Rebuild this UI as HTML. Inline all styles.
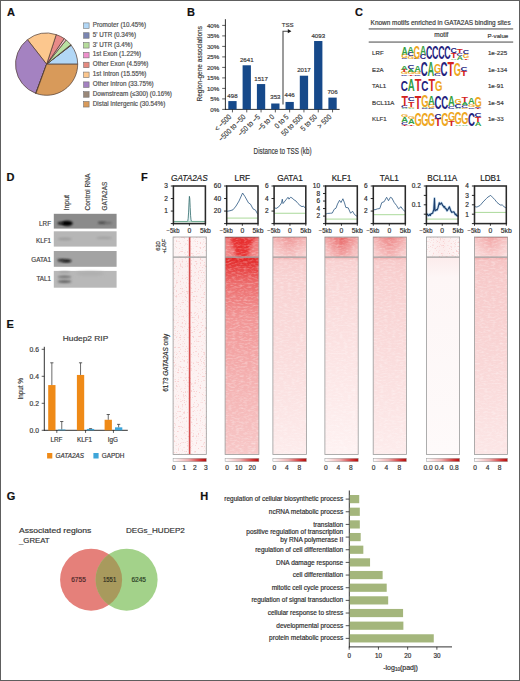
<!DOCTYPE html>
<html><head><meta charset="utf-8"><style>
html,body{margin:0;padding:0;background:#fff;}
svg{display:block;}
text{font-family:"Liberation Sans",sans-serif;}
</style></head><body>
<svg width="520" height="681" viewBox="0 0 520 681">
<rect width="520" height="681" fill="#fff"/>
<rect x="0.5" y="0.5" width="519" height="680" fill="none" stroke="#5e5e5e" stroke-width="1"/>
<text stroke="#111" stroke-width="0.18" x="7.0" y="16" font-size="11" text-anchor="start" fill="#111" font-weight="bold" font-style="normal" >A</text>
<text stroke="#111" stroke-width="0.18" x="187.0" y="16" font-size="11" text-anchor="start" fill="#111" font-weight="bold" font-style="normal" >B</text>
<text stroke="#111" stroke-width="0.18" x="354.9" y="16.2" font-size="11" text-anchor="start" fill="#111" font-weight="bold" font-style="normal" >C</text>
<text stroke="#111" stroke-width="0.18" x="6.4" y="180.7" font-size="11" text-anchor="start" fill="#111" font-weight="bold" font-style="normal" >D</text>
<text stroke="#111" stroke-width="0.18" x="6.4" y="327.6" font-size="11" text-anchor="start" fill="#111" font-weight="bold" font-style="normal" >E</text>
<text stroke="#111" stroke-width="0.18" x="141.1" y="180.7" font-size="11" text-anchor="start" fill="#111" font-weight="bold" font-style="normal" >F</text>
<text stroke="#111" stroke-width="0.18" x="6.7" y="499.5" font-size="11" text-anchor="start" fill="#111" font-weight="bold" font-style="normal" >G</text>
<text stroke="#111" stroke-width="0.18" x="200.2" y="499.6" font-size="11" text-anchor="start" fill="#111" font-weight="bold" font-style="normal" >H</text>
<path d="M46.6,64.2 L77.70,64.20 A31.1,31.1 0 0 0 71.23,45.22 Z" fill="#b2d7f6" stroke="#4e3a30" stroke-width="0.7" stroke-linejoin="round"/>
<path d="M46.6,64.2 L71.23,45.22 A31.1,31.1 0 0 0 70.82,44.69 Z" fill="#1f3b2c" stroke="#4e3a30" stroke-width="0.7" stroke-linejoin="round"/>
<path d="M46.6,64.2 L70.82,44.69 A31.1,31.1 0 0 0 66.14,40.00 Z" fill="#b9e0a2" stroke="#4e3a30" stroke-width="0.7" stroke-linejoin="round"/>
<path d="M46.6,64.2 L66.14,40.00 A31.1,31.1 0 0 0 64.23,38.58 Z" fill="#f2c4cc" stroke="#4e3a30" stroke-width="0.7" stroke-linejoin="round"/>
<path d="M46.6,64.2 L64.23,38.58 A31.1,31.1 0 0 0 56.21,34.62 Z" fill="#e88a88" stroke="#4e3a30" stroke-width="0.7" stroke-linejoin="round"/>
<path d="M46.6,64.2 L56.21,34.62 A31.1,31.1 0 0 0 27.46,39.69 Z" fill="#fcc78e" stroke="#4e3a30" stroke-width="0.7" stroke-linejoin="round"/>
<path d="M46.6,64.2 L27.46,39.69 A31.1,31.1 0 0 0 35.70,93.33 Z" fill="#a482c1" stroke="#4e3a30" stroke-width="0.7" stroke-linejoin="round"/>
<path d="M46.6,64.2 L35.70,93.33 A31.1,31.1 0 0 0 35.99,93.43 Z" fill="#6a5040" stroke="#4e3a30" stroke-width="0.7" stroke-linejoin="round"/>
<path d="M46.6,64.2 L35.99,93.43 A31.1,31.1 0 0 0 77.70,64.20 Z" fill="#d89a5a" stroke="#4e3a30" stroke-width="0.7" stroke-linejoin="round"/>
<rect x="83.6" y="22.90" width="5.5" height="5.5" fill="#b2d7f6" stroke="#6a6a6a" stroke-width="0.55"/>
<text stroke="#505050" stroke-width="0.18" x="92.8" y="27.0" font-size="6.3" text-anchor="start" fill="#505050" font-weight="normal" font-style="normal" >Promoter (10.45%)</text>
<rect x="83.6" y="32.73" width="5.5" height="5.5" fill="#7b86b2" stroke="#6a6a6a" stroke-width="0.55"/>
<text stroke="#505050" stroke-width="0.18" x="92.8" y="36.83" font-size="6.3" text-anchor="start" fill="#505050" font-weight="normal" font-style="normal" >5' UTR (0.34%)</text>
<rect x="83.6" y="42.56" width="5.5" height="5.5" fill="#b6dc9c" stroke="#6a6a6a" stroke-width="0.55"/>
<text stroke="#505050" stroke-width="0.18" x="92.8" y="46.66" font-size="6.3" text-anchor="start" fill="#505050" font-weight="normal" font-style="normal" >3' UTR (3.4%)</text>
<rect x="83.6" y="52.39" width="5.5" height="5.5" fill="#ee90cc" stroke="#6a6a6a" stroke-width="0.55"/>
<text stroke="#505050" stroke-width="0.18" x="92.8" y="56.49" font-size="6.3" text-anchor="start" fill="#505050" font-weight="normal" font-style="normal" >1st Exon (1.22%)</text>
<rect x="83.6" y="62.22" width="5.5" height="5.5" fill="#e58a80" stroke="#6a6a6a" stroke-width="0.55"/>
<text stroke="#505050" stroke-width="0.18" x="92.8" y="66.32" font-size="6.3" text-anchor="start" fill="#505050" font-weight="normal" font-style="normal" >Other Exon (4.59%)</text>
<rect x="83.6" y="72.05" width="5.5" height="5.5" fill="#fcc78e" stroke="#6a6a6a" stroke-width="0.55"/>
<text stroke="#505050" stroke-width="0.18" x="92.8" y="76.15" font-size="6.3" text-anchor="start" fill="#505050" font-weight="normal" font-style="normal" >1st Intron (15.55%)</text>
<rect x="83.6" y="81.88" width="5.5" height="5.5" fill="#a482c1" stroke="#6a6a6a" stroke-width="0.55"/>
<text stroke="#505050" stroke-width="0.18" x="92.8" y="85.98" font-size="6.3" text-anchor="start" fill="#505050" font-weight="normal" font-style="normal" >Other Intron (33.75%)</text>
<rect x="83.6" y="91.71" width="5.5" height="5.5" fill="#9a8878" stroke="#6a6a6a" stroke-width="0.55"/>
<text stroke="#505050" stroke-width="0.18" x="92.8" y="95.81" font-size="6.3" text-anchor="start" fill="#505050" font-weight="normal" font-style="normal" >Downstream (≤300) (0.16%)</text>
<rect x="83.6" y="101.54" width="5.5" height="5.5" fill="#d89a5a" stroke="#6a6a6a" stroke-width="0.55"/>
<text stroke="#505050" stroke-width="0.18" x="92.8" y="105.64" font-size="6.3" text-anchor="start" fill="#505050" font-weight="normal" font-style="normal" >Distal Intergenic (30.54%)</text>
<line x1="225.4" y1="19.2" x2="225.4" y2="109.80000000000001" stroke="#1a1a1a" stroke-width="0.9"/>
<line x1="225.0" y1="109.4" x2="339.6" y2="109.4" stroke="#1a1a1a" stroke-width="0.9"/>
<line x1="222.20000000000002" y1="109.40" x2="225.4" y2="109.40" stroke="#1a1a1a" stroke-width="0.7"/>
<text stroke="#3a3a3a" stroke-width="0.18" x="219.3" y="111.5" font-size="6.2" text-anchor="end" fill="#3a3a3a" font-weight="normal" font-style="normal" >0%</text>
<line x1="222.20000000000002" y1="98.90" x2="225.4" y2="98.90" stroke="#1a1a1a" stroke-width="0.7"/>
<text stroke="#3a3a3a" stroke-width="0.18" x="219.3" y="101.0" font-size="6.2" text-anchor="end" fill="#3a3a3a" font-weight="normal" font-style="normal" >5%</text>
<line x1="222.20000000000002" y1="88.40" x2="225.4" y2="88.40" stroke="#1a1a1a" stroke-width="0.7"/>
<text stroke="#3a3a3a" stroke-width="0.18" x="219.3" y="90.5" font-size="6.2" text-anchor="end" fill="#3a3a3a" font-weight="normal" font-style="normal" >10%</text>
<line x1="222.20000000000002" y1="77.90" x2="225.4" y2="77.90" stroke="#1a1a1a" stroke-width="0.7"/>
<text stroke="#3a3a3a" stroke-width="0.18" x="219.3" y="80.0" font-size="6.2" text-anchor="end" fill="#3a3a3a" font-weight="normal" font-style="normal" >15%</text>
<line x1="222.20000000000002" y1="67.40" x2="225.4" y2="67.40" stroke="#1a1a1a" stroke-width="0.7"/>
<text stroke="#3a3a3a" stroke-width="0.18" x="219.3" y="69.5" font-size="6.2" text-anchor="end" fill="#3a3a3a" font-weight="normal" font-style="normal" >20%</text>
<line x1="222.20000000000002" y1="56.90" x2="225.4" y2="56.90" stroke="#1a1a1a" stroke-width="0.7"/>
<text stroke="#3a3a3a" stroke-width="0.18" x="219.3" y="59.00000000000001" font-size="6.2" text-anchor="end" fill="#3a3a3a" font-weight="normal" font-style="normal" >25%</text>
<line x1="222.20000000000002" y1="46.40" x2="225.4" y2="46.40" stroke="#1a1a1a" stroke-width="0.7"/>
<text stroke="#3a3a3a" stroke-width="0.18" x="219.3" y="48.50000000000001" font-size="6.2" text-anchor="end" fill="#3a3a3a" font-weight="normal" font-style="normal" >30%</text>
<line x1="222.20000000000002" y1="35.90" x2="225.4" y2="35.90" stroke="#1a1a1a" stroke-width="0.7"/>
<text stroke="#3a3a3a" stroke-width="0.18" x="219.3" y="38.00000000000001" font-size="6.2" text-anchor="end" fill="#3a3a3a" font-weight="normal" font-style="normal" >35%</text>
<line x1="222.20000000000002" y1="25.40" x2="225.4" y2="25.40" stroke="#1a1a1a" stroke-width="0.7"/>
<text stroke="#3a3a3a" stroke-width="0.18" x="219.3" y="27.500000000000007" font-size="6.2" text-anchor="end" fill="#3a3a3a" font-weight="normal" font-style="normal" >40%</text>
<rect x="228.30" y="101.08" width="8.3" height="8.32" fill="#16498a"/>
<text stroke="#3a3a3a" stroke-width="0.18" x="232.45000000000002" y="97.68038464672806" font-size="6.1" text-anchor="middle" fill="#3a3a3a" font-weight="normal" font-style="normal" >498</text>
<line x1="232.45" y1="109.4" x2="232.45" y2="112.4" stroke="#1a1a1a" stroke-width="0.7"/>
<text stroke="#3a3a3a" stroke-width="0.18" x="231.85" y="117.40" font-size="7.6" text-anchor="end" fill="#3a3a3a" textLength="20.24" lengthAdjust="spacingAndGlyphs" transform="rotate(-45 231.85 117.40)">&lt; −500</text>
<rect x="242.60" y="65.28" width="8.3" height="44.12" fill="#16498a"/>
<text stroke="#3a3a3a" stroke-width="0.18" x="246.75000000000003" y="61.87930893977671" font-size="6.1" text-anchor="middle" fill="#3a3a3a" font-weight="normal" font-style="normal" >2641</text>
<line x1="246.75" y1="109.4" x2="246.75" y2="112.4" stroke="#1a1a1a" stroke-width="0.7"/>
<text stroke="#3a3a3a" stroke-width="0.18" x="246.15" y="117.40" font-size="7.6" text-anchor="end" fill="#3a3a3a" textLength="34.70" lengthAdjust="spacingAndGlyphs" transform="rotate(-45 246.15 117.40)">−500 to −50</text>
<rect x="256.90" y="84.06" width="8.3" height="25.34" fill="#16498a"/>
<text stroke="#3a3a3a" stroke-width="0.18" x="261.05" y="80.65691467688045" font-size="6.1" text-anchor="middle" fill="#3a3a3a" font-weight="normal" font-style="normal" >1517</text>
<line x1="261.05" y1="109.4" x2="261.05" y2="112.4" stroke="#1a1a1a" stroke-width="0.7"/>
<text stroke="#3a3a3a" stroke-width="0.18" x="260.45" y="117.40" font-size="7.6" text-anchor="end" fill="#3a3a3a" textLength="27.47" lengthAdjust="spacingAndGlyphs" transform="rotate(-45 260.45 117.40)">−50 to −5</text>
<rect x="271.20" y="103.50" width="8.3" height="5.90" fill="#16498a"/>
<text stroke="#3a3a3a" stroke-width="0.18" x="275.35" y="98.90276261103416" font-size="6.1" text-anchor="middle" fill="#3a3a3a" font-weight="normal" font-style="normal" >353</text>
<line x1="275.35" y1="109.4" x2="275.35" y2="112.4" stroke="#1a1a1a" stroke-width="0.7"/>
<text stroke="#3a3a3a" stroke-width="0.18" x="274.75" y="117.40" font-size="7.6" text-anchor="end" fill="#3a3a3a" textLength="20.06" lengthAdjust="spacingAndGlyphs" transform="rotate(-45 274.75 117.40)">−5 to 0</text>
<rect x="285.50" y="101.95" width="8.3" height="7.45" fill="#16498a"/>
<text stroke="#3a3a3a" stroke-width="0.18" x="289.65" y="97.34909950289301" font-size="6.1" text-anchor="middle" fill="#3a3a3a" font-weight="normal" font-style="normal" >446</text>
<line x1="289.65" y1="109.4" x2="289.65" y2="112.4" stroke="#1a1a1a" stroke-width="0.7"/>
<text stroke="#3a3a3a" stroke-width="0.18" x="289.05" y="117.40" font-size="7.6" text-anchor="end" fill="#3a3a3a" textLength="16.26" lengthAdjust="spacingAndGlyphs" transform="rotate(-45 289.05 117.40)">0 to 5</text>
<rect x="299.80" y="75.70" width="8.3" height="33.70" fill="#16498a"/>
<text stroke="#3a3a3a" stroke-width="0.18" x="303.95" y="72.30388721375601" font-size="6.1" text-anchor="middle" fill="#3a3a3a" font-weight="normal" font-style="normal" >2017</text>
<line x1="303.95" y1="109.4" x2="303.95" y2="112.4" stroke="#1a1a1a" stroke-width="0.7"/>
<text stroke="#3a3a3a" stroke-width="0.18" x="303.35" y="117.40" font-size="7.6" text-anchor="end" fill="#3a3a3a" textLength="27.11" lengthAdjust="spacingAndGlyphs" transform="rotate(-45 303.35 117.40)">50 to 500</text>
<rect x="314.10" y="41.02" width="8.3" height="68.38" fill="#16498a"/>
<text stroke="#3a3a3a" stroke-width="0.18" x="318.25" y="37.622117186863356" font-size="6.1" text-anchor="middle" fill="#3a3a3a" font-weight="normal" font-style="normal" >4093</text>
<line x1="318.25" y1="109.4" x2="318.25" y2="112.4" stroke="#1a1a1a" stroke-width="0.7"/>
<text stroke="#3a3a3a" stroke-width="0.18" x="317.65" y="117.40" font-size="7.6" text-anchor="end" fill="#3a3a3a" textLength="19.88" lengthAdjust="spacingAndGlyphs" transform="rotate(-45 317.65 117.40)">5 to 50</text>
<rect x="328.40" y="97.61" width="8.3" height="11.79" fill="#16498a"/>
<text stroke="#3a3a3a" stroke-width="0.18" x="332.55" y="94.20552522206829" font-size="6.1" text-anchor="middle" fill="#3a3a3a" font-weight="normal" font-style="normal" >706</text>
<line x1="332.55" y1="109.4" x2="332.55" y2="112.4" stroke="#1a1a1a" stroke-width="0.7"/>
<text stroke="#3a3a3a" stroke-width="0.18" x="331.95" y="117.40" font-size="7.6" text-anchor="end" fill="#3a3a3a" textLength="16.45" lengthAdjust="spacingAndGlyphs" transform="rotate(-45 331.95 117.40)">&gt; 500</text>
<text stroke="#3a3a3a" stroke-width="0.18" x="282.6" y="154.2" font-size="9" text-anchor="middle" fill="#3a3a3a" font-weight="normal" font-style="normal" textLength="58" lengthAdjust="spacingAndGlyphs" >Distance to TSS (kb)</text>
<text stroke="#3a3a3a" stroke-width="0.18" x="0" y="0" font-size="7.6" text-anchor="middle" fill="#3a3a3a" textLength="75.6" lengthAdjust="spacingAndGlyphs" transform="translate(201.5,63.8) rotate(-90)">Region-gene associations</text>
<path d="M283,104.6 L283,31.2 L288.5,31.2" fill="none" stroke="#4a4a4a" stroke-width="1.1"/>
<path d="M287.8,29.1 L291.4,31.2 L287.8,33.3 Z" fill="#1a1a1a"/>
<text stroke="#3a3a3a" stroke-width="0.18" x="287.6" y="26.8" font-size="6.1" text-anchor="middle" fill="#3a3a3a" font-weight="normal" font-style="normal" >TSS</text>
<text stroke="#3a3a3a" stroke-width="0.18" x="370.6" y="24.5" font-size="6.45" text-anchor="start" fill="#3a3a3a" font-weight="normal" font-style="normal" >Known motifs enriched in GATA2AS binding sites</text>
<rect x="368.7" y="28.5" width="144.5" height="0.9" fill="#333"/>
<rect x="368.7" y="41.6" width="144.5" height="0.9" fill="#333"/>
<text stroke="#3a3a3a" stroke-width="0.18" x="441.4" y="37.1" font-size="6.5" text-anchor="middle" fill="#3a3a3a" font-weight="normal" font-style="normal" >motif</text>
<text stroke="#3a3a3a" stroke-width="0.18" x="487.5" y="37.8" font-size="6.1" text-anchor="start" fill="#3a3a3a" font-weight="normal" font-style="normal" >P-value</text>
<text stroke="#3a3a3a" stroke-width="0.18" x="372.1" y="54.9" font-size="6.1" text-anchor="start" fill="#3a3a3a" font-weight="normal" font-style="normal" >LRF</text>
<text stroke="#3a3a3a" stroke-width="0.18" x="487.9" y="54.9" font-size="6.2" text-anchor="start" fill="#3a3a3a" font-weight="normal" font-style="normal" >1e-225</text>
<text stroke="#3a3a3a" stroke-width="0.18" x="372.1" y="71.6" font-size="6.1" text-anchor="start" fill="#3a3a3a" font-weight="normal" font-style="normal" >E2A</text>
<text stroke="#3a3a3a" stroke-width="0.18" x="487.9" y="71.6" font-size="6.2" text-anchor="start" fill="#3a3a3a" font-weight="normal" font-style="normal" >1e-134</text>
<text stroke="#3a3a3a" stroke-width="0.18" x="372.1" y="88.3" font-size="6.1" text-anchor="start" fill="#3a3a3a" font-weight="normal" font-style="normal" >TAL1</text>
<text stroke="#3a3a3a" stroke-width="0.18" x="487.9" y="88.3" font-size="6.2" text-anchor="start" fill="#3a3a3a" font-weight="normal" font-style="normal" >1e-91</text>
<text stroke="#3a3a3a" stroke-width="0.18" x="372.1" y="104.6" font-size="6.1" text-anchor="start" fill="#3a3a3a" font-weight="normal" font-style="normal" >BCL11A</text>
<text stroke="#3a3a3a" stroke-width="0.18" x="487.9" y="104.6" font-size="6.2" text-anchor="start" fill="#3a3a3a" font-weight="normal" font-style="normal" >1e-54</text>
<text stroke="#3a3a3a" stroke-width="0.18" x="372.1" y="120.8" font-size="6.1" text-anchor="start" fill="#3a3a3a" font-weight="normal" font-style="normal" >KLF1</text>
<text stroke="#3a3a3a" stroke-width="0.18" x="487.9" y="120.8" font-size="6.2" text-anchor="start" fill="#3a3a3a" font-weight="normal" font-style="normal" >1e-33</text>
<text x="0" y="0" font-size="100" font-weight="bold" fill="#25227e" transform="translate(401.32,59.48) scale(0.0884,0.0229)">C</text>
<text x="0" y="0" font-size="100" font-weight="bold" fill="#eea622" transform="translate(401.33,57.84) scale(0.0856,0.0477)">G</text>
<text x="0" y="0" font-size="100" font-weight="bold" fill="#35a043" transform="translate(401.47,54.51) scale(0.0861,0.1138)">A</text>
<text x="0" y="0" font-size="100" font-weight="bold" fill="#eea622" transform="translate(407.47,59.46) scale(0.0856,0.0420)">G</text>
<text x="0" y="0" font-size="100" font-weight="bold" fill="#25227e" transform="translate(407.46,56.48) scale(0.0884,0.0535)">C</text>
<text x="0" y="0" font-size="100" font-weight="bold" fill="#35a043" transform="translate(407.61,52.75) scale(0.0861,0.0824)">A</text>
<text x="0" y="0" font-size="100" font-weight="bold" fill="#25227e" transform="translate(413.60,59.49) scale(0.0884,0.0115)">C</text>
<text x="0" y="0" font-size="100" font-weight="bold" fill="#eea622" transform="translate(413.61,58.53) scale(0.0856,0.1795)">G</text>
<text x="0" y="0" font-size="100" font-weight="bold" fill="#25227e" transform="translate(419.74,59.44) scale(0.0884,0.0630)">C</text>
<text x="0" y="0" font-size="100" font-weight="bold" fill="#35a043" transform="translate(419.89,55.05) scale(0.0861,0.1217)">A</text>
<text x="0" y="0" font-size="100" font-weight="bold" fill="#25227e" transform="translate(425.88,59.33) scale(0.0884,0.1909)">C</text>
<text x="0" y="0" font-size="100" font-weight="bold" fill="#25227e" transform="translate(432.02,59.33) scale(0.0884,0.1909)">C</text>
<text x="0" y="0" font-size="100" font-weight="bold" fill="#25227e" transform="translate(438.16,59.33) scale(0.0884,0.1909)">C</text>
<text x="0" y="0" font-size="100" font-weight="bold" fill="#25227e" transform="translate(444.30,59.33) scale(0.0884,0.1852)">C</text>
<text x="0" y="0" font-size="100" font-weight="bold" fill="#35a043" transform="translate(450.59,59.50) scale(0.0861,0.0157)">A</text>
<text x="0" y="0" font-size="100" font-weight="bold" fill="#d4221d" transform="translate(450.70,58.42) scale(0.0982,0.0785)">T</text>
<text x="0" y="0" font-size="100" font-weight="bold" fill="#25227e" transform="translate(450.44,52.95) scale(0.0884,0.0726)">C</text>
<text x="0" y="0" font-size="100" font-weight="bold" fill="#35a043" transform="translate(456.73,59.50) scale(0.0861,0.0491)">A</text>
<text x="0" y="0" font-size="100" font-weight="bold" fill="#25227e" transform="translate(456.58,56.09) scale(0.0884,0.0382)">C</text>
<text x="0" y="0" font-size="100" font-weight="bold" fill="#d4221d" transform="translate(456.84,53.42) scale(0.0982,0.0589)">T</text>
<text x="0" y="0" font-size="100" font-weight="bold" fill="#d4221d" transform="translate(462.98,59.50) scale(0.0982,0.0235)">T</text>
<text x="0" y="0" font-size="100" font-weight="bold" fill="#eea622" transform="translate(462.73,57.83) scale(0.0856,0.0573)">G</text>
<text x="0" y="0" font-size="100" font-weight="bold" fill="#25227e" transform="translate(462.72,53.78) scale(0.0884,0.0573)">C</text>
<text x="0" y="0" font-size="100" font-weight="bold" fill="#25227e" transform="translate(400.81,75.98) scale(0.0954,0.0238)">C</text>
<text x="0" y="0" font-size="100" font-weight="bold" fill="#eea622" transform="translate(400.82,74.29) scale(0.0925,0.0297)">G</text>
<text x="0" y="0" font-size="100" font-weight="bold" fill="#d4221d" transform="translate(401.08,72.22) scale(0.1060,0.0305)">T</text>
<text x="0" y="0" font-size="100" font-weight="bold" fill="#35a043" transform="translate(400.97,70.12) scale(0.0930,0.0509)">A</text>
<text x="0" y="0" font-size="100" font-weight="bold" fill="#d4221d" transform="translate(407.71,76.00) scale(0.1060,0.0244)">T</text>
<text x="0" y="0" font-size="100" font-weight="bold" fill="#eea622" transform="translate(407.45,74.28) scale(0.0925,0.0396)">G</text>
<text x="0" y="0" font-size="100" font-weight="bold" fill="#35a043" transform="translate(407.60,71.52) scale(0.0930,0.0305)">A</text>
<text x="0" y="0" font-size="100" font-weight="bold" fill="#25227e" transform="translate(407.44,69.38) scale(0.0954,0.0495)">C</text>
<text x="0" y="0" font-size="100" font-weight="bold" fill="#25227e" transform="translate(414.07,75.98) scale(0.0954,0.0238)">C</text>
<text x="0" y="0" font-size="100" font-weight="bold" fill="#eea622" transform="translate(414.08,74.28) scale(0.0925,0.0396)">G</text>
<text x="0" y="0" font-size="100" font-weight="bold" fill="#35a043" transform="translate(414.23,71.52) scale(0.0930,0.0814)">A</text>
<text x="0" y="0" font-size="100" font-weight="bold" fill="#25227e" transform="translate(420.70,75.82) scale(0.0954,0.1980)">C</text>
<text x="0" y="0" font-size="100" font-weight="bold" fill="#35a043" transform="translate(427.49,76.00) scale(0.0930,0.2035)">A</text>
<text x="0" y="0" font-size="100" font-weight="bold" fill="#25227e" transform="translate(433.96,75.96) scale(0.0954,0.0436)">C</text>
<text x="0" y="0" font-size="100" font-weight="bold" fill="#eea622" transform="translate(433.97,72.81) scale(0.0925,0.1228)">G</text>
<text x="0" y="0" font-size="100" font-weight="bold" fill="#25227e" transform="translate(440.59,75.82) scale(0.0954,0.1980)">C</text>
<text x="0" y="0" font-size="100" font-weight="bold" fill="#d4221d" transform="translate(447.49,76.00) scale(0.1060,0.2035)">T</text>
<text x="0" y="0" font-size="100" font-weight="bold" fill="#eea622" transform="translate(453.86,75.83) scale(0.0925,0.1881)">G</text>
<text x="0" y="0" font-size="100" font-weight="bold" fill="#d4221d" transform="translate(460.75,76.00) scale(0.1060,0.0712)">T</text>
<text x="0" y="0" font-size="100" font-weight="bold" fill="#25227e" transform="translate(460.48,71.05) scale(0.0954,0.0594)">C</text>
<text x="0" y="0" font-size="100" font-weight="bold" fill="#25227e" transform="translate(400.80,91.06) scale(0.0986,0.1556)">C</text>
<text x="0" y="0" font-size="100" font-weight="bold" fill="#35a043" transform="translate(407.82,91.20) scale(0.0961,0.1599)">A</text>
<text x="0" y="0" font-size="100" font-weight="bold" fill="#d4221d" transform="translate(414.79,91.20) scale(0.1095,0.1599)">T</text>
<text x="0" y="0" font-size="100" font-weight="bold" fill="#25227e" transform="translate(421.35,91.06) scale(0.0986,0.1556)">C</text>
<text x="0" y="0" font-size="100" font-weight="bold" fill="#d4221d" transform="translate(428.49,91.20) scale(0.1095,0.1599)">T</text>
<text x="0" y="0" font-size="100" font-weight="bold" fill="#eea622" transform="translate(435.06,91.06) scale(0.0955,0.1556)">G</text>
<text x="0" y="0" font-size="100" font-weight="bold" fill="#35a043" transform="translate(401.27,108.90) scale(0.0937,0.0153)">A</text>
<text x="0" y="0" font-size="100" font-weight="bold" fill="#25227e" transform="translate(401.11,107.82) scale(0.0962,0.0280)">C</text>
<text x="0" y="0" font-size="100" font-weight="bold" fill="#d4221d" transform="translate(401.38,105.86) scale(0.1068,0.1439)">T</text>
<text x="0" y="0" font-size="100" font-weight="bold" fill="#35a043" transform="translate(407.95,108.90) scale(0.0937,0.0153)">A</text>
<text x="0" y="0" font-size="100" font-weight="bold" fill="#eea622" transform="translate(407.80,107.83) scale(0.0932,0.0149)">G</text>
<text x="0" y="0" font-size="100" font-weight="bold" fill="#d4221d" transform="translate(408.06,106.79) scale(0.1068,0.0767)">T</text>
<text x="0" y="0" font-size="100" font-weight="bold" fill="#25227e" transform="translate(407.79,101.45) scale(0.0962,0.0616)">C</text>
<text x="0" y="0" font-size="100" font-weight="bold" fill="#d4221d" transform="translate(414.74,108.90) scale(0.1068,0.1919)">T</text>
<text x="0" y="0" font-size="100" font-weight="bold" fill="#25227e" transform="translate(421.15,108.89) scale(0.0962,0.0149)">C</text>
<text x="0" y="0" font-size="100" font-weight="bold" fill="#35a043" transform="translate(421.31,107.84) scale(0.0937,0.0115)">A</text>
<text x="0" y="0" font-size="100" font-weight="bold" fill="#eea622" transform="translate(421.16,106.91) scale(0.0932,0.1568)">G</text>
<text x="0" y="0" font-size="100" font-weight="bold" fill="#25227e" transform="translate(427.83,108.89) scale(0.0962,0.0149)">C</text>
<text x="0" y="0" font-size="100" font-weight="bold" fill="#eea622" transform="translate(427.84,107.80) scale(0.0932,0.0467)">G</text>
<text x="0" y="0" font-size="100" font-weight="bold" fill="#35a043" transform="translate(427.99,104.54) scale(0.0937,0.1190)">A</text>
<text x="0" y="0" font-size="100" font-weight="bold" fill="#25227e" transform="translate(434.51,108.73) scale(0.0962,0.1867)">C</text>
<text x="0" y="0" font-size="100" font-weight="bold" fill="#25227e" transform="translate(441.19,108.73) scale(0.0962,0.1867)">C</text>
<text x="0" y="0" font-size="100" font-weight="bold" fill="#25227e" transform="translate(447.87,108.86) scale(0.0962,0.0411)">C</text>
<text x="0" y="0" font-size="100" font-weight="bold" fill="#35a043" transform="translate(448.03,106.00) scale(0.0937,0.1381)">A</text>
<text x="0" y="0" font-size="100" font-weight="bold" fill="#35a043" transform="translate(454.71,108.90) scale(0.0937,0.0192)">A</text>
<text x="0" y="0" font-size="100" font-weight="bold" fill="#25227e" transform="translate(454.55,107.54) scale(0.0962,0.0467)">C</text>
<text x="0" y="0" font-size="100" font-weight="bold" fill="#eea622" transform="translate(454.56,104.21) scale(0.0932,0.0747)">G</text>
<text x="0" y="0" font-size="100" font-weight="bold" fill="#eea622" transform="translate(461.24,108.89) scale(0.0932,0.0149)">G</text>
<text x="0" y="0" font-size="100" font-weight="bold" fill="#25227e" transform="translate(461.23,107.81) scale(0.0962,0.0373)">C</text>
<text x="0" y="0" font-size="100" font-weight="bold" fill="#35a043" transform="translate(461.39,105.20) scale(0.0937,0.0422)">A</text>
<text x="0" y="0" font-size="100" font-weight="bold" fill="#d4221d" transform="translate(461.50,102.30) scale(0.1068,0.0729)">T</text>
<text x="0" y="0" font-size="100" font-weight="bold" fill="#25227e" transform="translate(467.91,108.88) scale(0.0962,0.0224)">C</text>
<text x="0" y="0" font-size="100" font-weight="bold" fill="#eea622" transform="translate(467.92,107.28) scale(0.0932,0.0411)">G</text>
<text x="0" y="0" font-size="100" font-weight="bold" fill="#35a043" transform="translate(468.07,104.41) scale(0.0937,0.0883)">A</text>
<text x="0" y="0" font-size="100" font-weight="bold" fill="#d4221d" transform="translate(474.86,108.90) scale(0.1068,0.0096)">T</text>
<text x="0" y="0" font-size="100" font-weight="bold" fill="#25227e" transform="translate(474.59,108.23) scale(0.0962,0.0149)">C</text>
<text x="0" y="0" font-size="100" font-weight="bold" fill="#eea622" transform="translate(474.60,107.05) scale(0.0932,0.1531)">G</text>
<text x="0" y="0" font-size="100" font-weight="bold" fill="#d4221d" transform="translate(401.38,126.00) scale(0.1068,0.0124)">T</text>
<text x="0" y="0" font-size="100" font-weight="bold" fill="#25227e" transform="translate(401.11,125.11) scale(0.0962,0.0402)">C</text>
<text x="0" y="0" font-size="100" font-weight="bold" fill="#35a043" transform="translate(401.27,122.31) scale(0.0937,0.0702)">A</text>
<text x="0" y="0" font-size="100" font-weight="bold" fill="#eea622" transform="translate(401.12,117.44) scale(0.0932,0.0402)">G</text>
<text x="0" y="0" font-size="100" font-weight="bold" fill="#d4221d" transform="translate(408.06,126.00) scale(0.1068,0.0248)">T</text>
<text x="0" y="0" font-size="100" font-weight="bold" fill="#35a043" transform="translate(407.95,124.30) scale(0.0937,0.0702)">A</text>
<text x="0" y="0" font-size="100" font-weight="bold" fill="#eea622" transform="translate(407.80,119.43) scale(0.0932,0.0402)">G</text>
<text x="0" y="0" font-size="100" font-weight="bold" fill="#eea622" transform="translate(414.48,125.83) scale(0.0932,0.1848)">G</text>
<text x="0" y="0" font-size="100" font-weight="bold" fill="#eea622" transform="translate(421.16,125.83) scale(0.0932,0.1848)">G</text>
<text x="0" y="0" font-size="100" font-weight="bold" fill="#eea622" transform="translate(427.84,125.83) scale(0.0932,0.1848)">G</text>
<text x="0" y="0" font-size="100" font-weight="bold" fill="#d4221d" transform="translate(434.78,126.00) scale(0.1068,0.1032)">T</text>
<text x="0" y="0" font-size="100" font-weight="bold" fill="#25227e" transform="translate(434.51,118.83) scale(0.0962,0.0723)">C</text>
<text x="0" y="0" font-size="100" font-weight="bold" fill="#eea622" transform="translate(441.20,125.83) scale(0.0932,0.1848)">G</text>
<text x="0" y="0" font-size="100" font-weight="bold" fill="#d4221d" transform="translate(448.14,126.00) scale(0.1068,0.0660)">T</text>
<text x="0" y="0" font-size="100" font-weight="bold" fill="#eea622" transform="translate(447.88,121.35) scale(0.0932,0.1205)">G</text>
<text x="0" y="0" font-size="100" font-weight="bold" fill="#35a043" transform="translate(454.71,126.00) scale(0.0937,0.0206)">A</text>
<text x="0" y="0" font-size="100" font-weight="bold" fill="#eea622" transform="translate(454.56,124.44) scale(0.0932,0.1567)">G</text>
<text x="0" y="0" font-size="100" font-weight="bold" fill="#35a043" transform="translate(461.39,126.00) scale(0.0937,0.0206)">A</text>
<text x="0" y="0" font-size="100" font-weight="bold" fill="#eea622" transform="translate(461.24,124.44) scale(0.0932,0.1607)">G</text>
<text x="0" y="0" font-size="100" font-weight="bold" fill="#25227e" transform="translate(467.91,125.83) scale(0.0962,0.1848)">C</text>
<text x="0" y="0" font-size="100" font-weight="bold" fill="#35a043" transform="translate(474.75,126.00) scale(0.0937,0.0578)">A</text>
<text x="0" y="0" font-size="100" font-weight="bold" fill="#d4221d" transform="translate(474.86,122.02) scale(0.1068,0.0702)">T</text>
<text x="0" y="0" font-size="100" font-weight="bold" fill="#25227e" transform="translate(474.59,117.15) scale(0.0962,0.0562)">C</text>
<text stroke="#444" stroke-width="0.18" x="51" y="225.5" font-size="6.3" text-anchor="end" fill="#444" font-weight="normal" font-style="normal" >LRF</text>
<text stroke="#444" stroke-width="0.18" x="51" y="242.6" font-size="6.3" text-anchor="end" fill="#444" font-weight="normal" font-style="normal" >KLF1</text>
<text stroke="#444" stroke-width="0.18" x="51" y="261.9" font-size="6.3" text-anchor="end" fill="#444" font-weight="normal" font-style="normal" >GATA1</text>
<text stroke="#444" stroke-width="0.18" x="51" y="281.2" font-size="6.3" text-anchor="end" fill="#444" font-weight="normal" font-style="normal" >TAL1</text>
<text stroke="#444" stroke-width="0.18" x="0" y="0" font-size="6.5" fill="#444" textLength="15.4" lengthAdjust="spacingAndGlyphs" transform="translate(69.2,210.4) rotate(-90)">Input</text>
<text stroke="#444" stroke-width="0.18" x="0" y="0" font-size="6.5" fill="#444" textLength="36.9" lengthAdjust="spacingAndGlyphs" transform="translate(89.6,210.4) rotate(-90)">Control RNA</text>
<text stroke="#444" stroke-width="0.18" x="0" y="0" font-size="6.5" fill="#444" textLength="28.6" lengthAdjust="spacingAndGlyphs" transform="translate(106.5,210.4) rotate(-90)">GATA2AS</text>
<defs><filter id="bl" x="-50%" y="-50%" width="200%" height="200%"><feGaussianBlur stdDeviation="0.9"/></filter><filter id="bl2" x="-50%" y="-50%" width="200%" height="200%"><feGaussianBlur stdDeviation="1.6"/></filter></defs>
<rect x="53.8" y="213.8" width="62.8" height="14.8" fill="#8b8b8b"/>
<rect x="53.8" y="231.3" width="62.8" height="15.3" fill="#b6b6b6"/>
<rect x="53.8" y="251" width="62.8" height="15.8" fill="#a3a3a3"/>
<rect x="53.8" y="270.9" width="62.8" height="16.8" fill="#b8b8b8"/>
<ellipse cx="67.3" cy="223.3" rx="5.3" ry="2.6" fill="#000" filter="url(#bl)"/>
<ellipse cx="62" cy="223.2" rx="4.5" ry="1.3" fill="#080808" filter="url(#bl)"/>
<ellipse cx="102" cy="222.8" rx="4.2" ry="1.3" fill="#4a4a4a" filter="url(#bl)"/>
<ellipse cx="108" cy="222.9" rx="4" ry="1.1" fill="#6c6c6c" filter="url(#bl)"/>
<ellipse cx="64.8" cy="238.9" rx="7.2" ry="1.4" fill="#9c9c9c" filter="url(#bl)"/>
<ellipse cx="104.2" cy="237.9" rx="8" ry="1.2" fill="#a0a0a0" filter="url(#bl)"/>
<ellipse cx="66.5" cy="260.8" rx="5" ry="1.6" fill="#111" filter="url(#bl)"/>
<ellipse cx="61" cy="260.2" rx="3.6" ry="1.5" fill="#333" filter="url(#bl)"/>
<ellipse cx="64.5" cy="276.9" rx="7" ry="1.3" fill="#727272" filter="url(#bl)"/>
<ellipse cx="64.5" cy="281.6" rx="7" ry="1.4" fill="#5e5e5e" filter="url(#bl)"/>
<ellipse cx="64.5" cy="272.3" rx="6" ry="0.8" fill="#9a9a9a" filter="url(#bl)"/>
<ellipse cx="90" cy="273.5" rx="14" ry="2" fill="#aeaeae" filter="url(#bl2)"/>
<line x1="44.3" y1="346.8" x2="44.3" y2="430.7" stroke="#1a1a1a" stroke-width="0.9"/>
<line x1="43.9" y1="430.3" x2="127.8" y2="430.3" stroke="#1a1a1a" stroke-width="0.9"/>
<line x1="41.699999999999996" y1="430.30" x2="44.3" y2="430.30" stroke="#1a1a1a" stroke-width="0.7"/>
<text stroke="#3a3a3a" stroke-width="0.18" x="39.0" y="432.5" font-size="6.4" text-anchor="end" fill="#3a3a3a" font-weight="normal" font-style="normal" textLength="9.4" lengthAdjust="spacingAndGlyphs" >0.0</text>
<line x1="41.699999999999996" y1="403.30" x2="44.3" y2="403.30" stroke="#1a1a1a" stroke-width="0.7"/>
<text stroke="#3a3a3a" stroke-width="0.18" x="39.0" y="405.5" font-size="6.4" text-anchor="end" fill="#3a3a3a" font-weight="normal" font-style="normal" textLength="9.4" lengthAdjust="spacingAndGlyphs" >0.2</text>
<line x1="41.699999999999996" y1="376.30" x2="44.3" y2="376.30" stroke="#1a1a1a" stroke-width="0.7"/>
<text stroke="#3a3a3a" stroke-width="0.18" x="39.0" y="378.5" font-size="6.4" text-anchor="end" fill="#3a3a3a" font-weight="normal" font-style="normal" textLength="9.4" lengthAdjust="spacingAndGlyphs" >0.4</text>
<line x1="41.699999999999996" y1="349.30" x2="44.3" y2="349.30" stroke="#1a1a1a" stroke-width="0.7"/>
<text stroke="#3a3a3a" stroke-width="0.18" x="39.0" y="351.5" font-size="6.4" text-anchor="end" fill="#3a3a3a" font-weight="normal" font-style="normal" textLength="9.4" lengthAdjust="spacingAndGlyphs" >0.6</text>
<text stroke="#3a3a3a" stroke-width="0.18" x="0" y="0" font-size="6.4" text-anchor="middle" fill="#3a3a3a" textLength="21.6" lengthAdjust="spacingAndGlyphs" transform="translate(23.4,388.8) rotate(-90)">Input %</text>
<text stroke="#3a3a3a" stroke-width="0.18" x="85.5" y="341.2" font-size="7.8" text-anchor="middle" fill="#3a3a3a" font-weight="normal" font-style="normal" textLength="45.4" lengthAdjust="spacingAndGlyphs" >Hudep2 RIP</text>
<rect x="48.2" y="385.07" width="7.3" height="45.23" fill="#ef8a17"/>
<line x1="51.85" y1="385.07" x2="51.85" y2="362.80" stroke="#3a3a3a" stroke-width="0.75"/>
<line x1="50.25" y1="362.80" x2="53.45" y2="362.80" stroke="#3a3a3a" stroke-width="0.8"/>
<rect x="58.1" y="429.49" width="7.3" height="0.81" fill="#3ea5d9"/>
<line x1="61.75" y1="429.49" x2="61.75" y2="421.53" stroke="#3a3a3a" stroke-width="0.75"/>
<line x1="60.15" y1="421.53" x2="63.35" y2="421.53" stroke="#3a3a3a" stroke-width="0.8"/>
<line x1="56.80" y1="430.3" x2="56.80" y2="432.90000000000003" stroke="#1a1a1a" stroke-width="0.7"/>
<text stroke="#3a3a3a" stroke-width="0.18" x="56.5" y="441.9" font-size="6.3" text-anchor="middle" fill="#3a3a3a" font-weight="normal" font-style="normal" >LRF</text>
<rect x="76.9" y="374.95" width="7.3" height="55.35" fill="#ef8a17"/>
<line x1="80.55" y1="374.95" x2="80.55" y2="362.80" stroke="#3a3a3a" stroke-width="0.75"/>
<line x1="78.95" y1="362.80" x2="82.15" y2="362.80" stroke="#3a3a3a" stroke-width="0.8"/>
<rect x="86.9" y="428.95" width="7.3" height="1.35" fill="#3ea5d9"/>
<line x1="90.55" y1="428.95" x2="90.55" y2="428.68" stroke="#3a3a3a" stroke-width="0.75"/>
<line x1="88.95" y1="428.68" x2="92.15" y2="428.68" stroke="#3a3a3a" stroke-width="0.8"/>
<line x1="85.55" y1="430.3" x2="85.55" y2="432.90000000000003" stroke="#1a1a1a" stroke-width="0.7"/>
<text stroke="#3a3a3a" stroke-width="0.18" x="84.5" y="441.9" font-size="6.3" text-anchor="middle" fill="#3a3a3a" font-weight="normal" font-style="normal" >KLF1</text>
<rect x="104.6" y="419.77" width="7.3" height="10.53" fill="#ef8a17"/>
<line x1="108.25" y1="419.77" x2="108.25" y2="414.50" stroke="#3a3a3a" stroke-width="0.75"/>
<line x1="106.65" y1="414.50" x2="109.85" y2="414.50" stroke="#3a3a3a" stroke-width="0.8"/>
<rect x="115" y="427.33" width="7.3" height="2.97" fill="#3ea5d9"/>
<line x1="118.65" y1="427.33" x2="118.65" y2="424.36" stroke="#3a3a3a" stroke-width="0.75"/>
<line x1="117.05" y1="424.36" x2="120.25" y2="424.36" stroke="#3a3a3a" stroke-width="0.8"/>
<line x1="113.45" y1="430.3" x2="113.45" y2="432.90000000000003" stroke="#1a1a1a" stroke-width="0.7"/>
<text stroke="#3a3a3a" stroke-width="0.18" x="112.9" y="441.9" font-size="6.3" text-anchor="middle" fill="#3a3a3a" font-weight="normal" font-style="normal" >IgG</text>
<rect x="47.1" y="453" width="5.2" height="5.5" fill="#ef8a17"/>
<text stroke="#3a3a3a" stroke-width="0.18" x="55.6" y="457.6" font-size="6.4" text-anchor="start" fill="#3a3a3a" font-weight="normal" font-style="italic" textLength="28.3" lengthAdjust="spacingAndGlyphs" >GATA2AS</text>
<rect x="93.4" y="453" width="5.2" height="5.5" fill="#3ea5d9"/>
<text stroke="#3a3a3a" stroke-width="0.18" x="101.7" y="457.6" font-size="6.4" text-anchor="start" fill="#3a3a3a" font-weight="normal" font-style="normal" textLength="22.7" lengthAdjust="spacingAndGlyphs" >GAPDH</text>
<circle cx="91.1" cy="579.7" r="31" fill="#e5807a"/>
<circle cx="126.6" cy="579.7" r="31" fill="#a3d28a" />
<clipPath id="cpv"><circle cx="91.1" cy="579.7" r="31"/></clipPath>
<circle cx="126.6" cy="579.7" r="31" fill="#a89a5d" clip-path="url(#cpv)"/>
<text stroke="#333" stroke-width="0.18" x="19.0" y="533.1" font-size="8" text-anchor="start" fill="#333" font-weight="normal" font-style="normal" textLength="72.4" lengthAdjust="spacingAndGlyphs" >Associated regions</text>
<text stroke="#333" stroke-width="0.18" x="19.0" y="542.9" font-size="8" text-anchor="start" fill="#333" font-weight="normal" font-style="normal" textLength="30.6" lengthAdjust="spacingAndGlyphs" >_GREAT</text>
<text stroke="#333" stroke-width="0.18" x="126.0" y="533.1" font-size="8" text-anchor="start" fill="#333" font-weight="normal" font-style="normal" textLength="58.8" lengthAdjust="spacingAndGlyphs" >DEGs_HUDEP2</text>
<text stroke="#4a2626" stroke-width="0.18" x="78.5" y="582.4" font-size="7" text-anchor="middle" fill="#4a2626" font-weight="normal" font-style="normal" textLength="14.6" lengthAdjust="spacingAndGlyphs" >6755</text>
<text stroke="#2e2e1e" stroke-width="0.18" x="109.6" y="582.4" font-size="7" text-anchor="middle" fill="#2e2e1e" font-weight="normal" font-style="normal" textLength="13.2" lengthAdjust="spacingAndGlyphs" >1551</text>
<text stroke="#2a3e24" stroke-width="0.18" x="138.7" y="582.4" font-size="7" text-anchor="middle" fill="#2a3e24" font-weight="normal" font-style="normal" textLength="14.6" lengthAdjust="spacingAndGlyphs" >6245</text>
<line x1="349.3" y1="490.5" x2="349.3" y2="647.3" stroke="#1a1a1a" stroke-width="0.9"/>
<line x1="348.90000000000003" y1="646.9" x2="452" y2="646.9" stroke="#1a1a1a" stroke-width="0.9"/>
<rect x="349.75" y="495.00" width="9.49" height="8.2" fill="#a4b67c"/>
<line x1="345.7" y1="499.10" x2="349.3" y2="499.10" stroke="#1a1a1a" stroke-width="0.75"/>
<text stroke="#2e2e2e" stroke-width="0.18" x="343.2" y="501.20000000000005" font-size="6.5" text-anchor="end" fill="#2e2e2e" font-weight="normal" font-style="normal" >regulation of cellular biosynthetic process</text>
<rect x="349.75" y="507.66" width="10.07" height="8.2" fill="#a4b67c"/>
<line x1="345.7" y1="511.76" x2="349.3" y2="511.76" stroke="#1a1a1a" stroke-width="0.75"/>
<text stroke="#2e2e2e" stroke-width="0.18" x="343.2" y="513.86" font-size="6.5" text-anchor="end" fill="#2e2e2e" font-weight="normal" font-style="normal" >ncRNA metabolic process</text>
<rect x="349.75" y="520.32" width="10.07" height="8.2" fill="#a4b67c"/>
<line x1="345.7" y1="524.42" x2="349.3" y2="524.42" stroke="#1a1a1a" stroke-width="0.75"/>
<text stroke="#2e2e2e" stroke-width="0.18" x="343.2" y="526.5200000000001" font-size="6.5" text-anchor="end" fill="#2e2e2e" font-weight="normal" font-style="normal" >translation</text>
<rect x="349.75" y="532.98" width="10.95" height="8.2" fill="#a4b67c"/>
<line x1="345.7" y1="537.08" x2="349.3" y2="537.08" stroke="#1a1a1a" stroke-width="0.75"/>
<text stroke="#2e2e2e" stroke-width="0.18" x="343.2" y="534.4" font-size="6.5" text-anchor="end" fill="#2e2e2e" font-weight="normal" font-style="normal" >positive regulation of transcription</text>
<text stroke="#2e2e2e" stroke-width="0.18" x="343.2" y="542.0" font-size="6.5" text-anchor="end" fill="#2e2e2e" font-weight="normal" font-style="normal" >by RNA polymerase II</text>
<rect x="349.75" y="545.64" width="13.58" height="8.2" fill="#a4b67c"/>
<line x1="345.7" y1="549.74" x2="349.3" y2="549.74" stroke="#1a1a1a" stroke-width="0.75"/>
<text stroke="#2e2e2e" stroke-width="0.18" x="343.2" y="551.84" font-size="6.5" text-anchor="end" fill="#2e2e2e" font-weight="normal" font-style="normal" >regulation of cell differentiation</text>
<rect x="349.75" y="558.30" width="20.30" height="8.2" fill="#a4b67c"/>
<line x1="345.7" y1="562.40" x2="349.3" y2="562.40" stroke="#1a1a1a" stroke-width="0.75"/>
<text stroke="#2e2e2e" stroke-width="0.18" x="343.2" y="564.5" font-size="6.5" text-anchor="end" fill="#2e2e2e" font-weight="normal" font-style="normal" >DNA damage response</text>
<rect x="349.75" y="570.96" width="32.87" height="8.2" fill="#a4b67c"/>
<line x1="345.7" y1="575.06" x2="349.3" y2="575.06" stroke="#1a1a1a" stroke-width="0.75"/>
<text stroke="#2e2e2e" stroke-width="0.18" x="343.2" y="577.1600000000001" font-size="6.5" text-anchor="end" fill="#2e2e2e" font-weight="normal" font-style="normal" >cell differentiation</text>
<rect x="349.75" y="583.62" width="36.96" height="8.2" fill="#a4b67c"/>
<line x1="345.7" y1="587.72" x2="349.3" y2="587.72" stroke="#1a1a1a" stroke-width="0.75"/>
<text stroke="#2e2e2e" stroke-width="0.18" x="343.2" y="589.82" font-size="6.5" text-anchor="end" fill="#2e2e2e" font-weight="normal" font-style="normal" >mitotic cell cycle process</text>
<rect x="349.75" y="596.28" width="38.43" height="8.2" fill="#a4b67c"/>
<line x1="345.7" y1="600.38" x2="349.3" y2="600.38" stroke="#1a1a1a" stroke-width="0.75"/>
<text stroke="#2e2e2e" stroke-width="0.18" x="343.2" y="602.48" font-size="6.5" text-anchor="end" fill="#2e2e2e" font-weight="normal" font-style="normal" >regulation of signal transduction</text>
<rect x="349.75" y="608.94" width="53.33" height="8.2" fill="#a4b67c"/>
<line x1="345.7" y1="613.04" x2="349.3" y2="613.04" stroke="#1a1a1a" stroke-width="0.75"/>
<text stroke="#2e2e2e" stroke-width="0.18" x="343.2" y="615.1400000000001" font-size="6.5" text-anchor="end" fill="#2e2e2e" font-weight="normal" font-style="normal" >cellular response to stress</text>
<rect x="349.75" y="621.60" width="53.63" height="8.2" fill="#a4b67c"/>
<line x1="345.7" y1="625.70" x2="349.3" y2="625.70" stroke="#1a1a1a" stroke-width="0.75"/>
<text stroke="#2e2e2e" stroke-width="0.18" x="343.2" y="627.8000000000001" font-size="6.5" text-anchor="end" fill="#2e2e2e" font-weight="normal" font-style="normal" >developmental process</text>
<rect x="349.75" y="634.26" width="84.02" height="8.2" fill="#a4b67c"/>
<line x1="345.7" y1="638.36" x2="349.3" y2="638.36" stroke="#1a1a1a" stroke-width="0.75"/>
<text stroke="#2e2e2e" stroke-width="0.18" x="343.2" y="640.46" font-size="6.5" text-anchor="end" fill="#2e2e2e" font-weight="normal" font-style="normal" >protein metabolic process</text>
<line x1="349.20" y1="646.9" x2="349.20" y2="649.6999999999999" stroke="#1a1a1a" stroke-width="0.75"/>
<text stroke="#2e2e2e" stroke-width="0.18" x="349.2" y="658" font-size="6.3" text-anchor="middle" fill="#2e2e2e" font-weight="normal" font-style="normal" >0</text>
<line x1="378.43" y1="646.9" x2="378.43" y2="649.6999999999999" stroke="#1a1a1a" stroke-width="0.75"/>
<text stroke="#2e2e2e" stroke-width="0.18" x="378.43" y="658" font-size="6.3" text-anchor="middle" fill="#2e2e2e" font-weight="normal" font-style="normal" >10</text>
<line x1="407.66" y1="646.9" x2="407.66" y2="649.6999999999999" stroke="#1a1a1a" stroke-width="0.75"/>
<text stroke="#2e2e2e" stroke-width="0.18" x="407.65999999999997" y="658" font-size="6.3" text-anchor="middle" fill="#2e2e2e" font-weight="normal" font-style="normal" >20</text>
<line x1="436.89" y1="646.9" x2="436.89" y2="649.6999999999999" stroke="#1a1a1a" stroke-width="0.75"/>
<text stroke="#2e2e2e" stroke-width="0.18" x="436.89" y="658" font-size="6.3" text-anchor="middle" fill="#2e2e2e" font-weight="normal" font-style="normal" >30</text>
<text stroke="#2e2e2e" stroke-width="0.18" x="383.2" y="670" font-size="7" fill="#2e2e2e">-log<tspan font-size="4.6" dy="1.4">10</tspan><tspan dy="-1.4">(padj)</tspan></text>
<text stroke="#222" stroke-width="0.18" x="189.4" y="181.1" font-size="8.2" text-anchor="middle" fill="#222" font-weight="normal" font-style="italic" >GATA2AS</text>
<polyline points="173.40,221.47 173.80,221.47 174.20,221.47 174.60,221.47 175.00,221.47 175.40,221.47 175.80,221.47 176.20,221.47 176.60,221.47 177.00,221.47 177.40,221.47 177.80,221.47 178.20,221.47 178.60,221.47 179.00,221.47 179.40,221.47 179.80,221.47 180.20,221.47 180.60,221.47 181.00,221.47 181.40,221.47 181.80,221.47 182.20,221.47 182.60,221.47 183.00,221.47 183.40,221.47 183.80,221.47 184.20,221.47 184.60,221.47 185.00,221.47 185.40,221.47 185.80,221.47 186.20,221.47 186.60,221.47 187.00,221.46 187.40,221.36 187.80,220.75 188.20,218.31 188.60,212.11 189.00,202.78 189.40,196.34 189.80,198.70 190.20,207.57 190.60,215.76 191.00,219.89 191.40,221.17 191.80,221.43 192.20,221.47 192.60,221.47 193.00,221.47 193.40,221.47 193.80,221.47 194.20,221.47 194.60,221.47 195.00,221.47 195.40,221.47 195.80,221.47 196.20,221.47 196.60,221.47 197.00,221.47 197.40,221.47 197.80,221.47 198.20,221.47 198.60,221.47 199.00,221.47 199.40,221.47 199.80,221.47 200.20,221.47 200.60,221.47 201.00,221.47 201.40,221.47 201.80,221.47 202.20,221.47 202.60,221.47 203.00,221.47 203.40,221.47 203.80,221.47 204.20,221.47 204.60,221.47 205.00,221.47 205.40,221.47" fill="#d8f0f4" fill-opacity="0.6" stroke="none"/>
<polyline points="173.40,221.47 173.80,221.47 174.20,221.47 174.60,221.47 175.00,221.47 175.40,221.47 175.80,221.47 176.20,221.47 176.60,221.47 177.00,221.47 177.40,221.47 177.80,221.47 178.20,221.47 178.60,221.47 179.00,221.47 179.40,221.47 179.80,221.47 180.20,221.47 180.60,221.47 181.00,221.47 181.40,221.47 181.80,221.47 182.20,221.47 182.60,221.47 183.00,221.47 183.40,221.47 183.80,221.47 184.20,221.47 184.60,221.47 185.00,221.47 185.40,221.47 185.80,221.47 186.20,221.47 186.60,221.47 187.00,221.46 187.40,221.36 187.80,220.75 188.20,218.31 188.60,212.11 189.00,202.78 189.40,196.34 189.80,198.70 190.20,207.57 190.60,215.76 191.00,219.89 191.40,221.17 191.80,221.43 192.20,221.47 192.60,221.47 193.00,221.47 193.40,221.47 193.80,221.47 194.20,221.47 194.60,221.47 195.00,221.47 195.40,221.47 195.80,221.47 196.20,221.47 196.60,221.47 197.00,221.47 197.40,221.47 197.80,221.47 198.20,221.47 198.60,221.47 199.00,221.47 199.40,221.47 199.80,221.47 200.20,221.47 200.60,221.47 201.00,221.47 201.40,221.47 201.80,221.47 202.20,221.47 202.60,221.47 203.00,221.47 203.40,221.47 203.80,221.47 204.20,221.47 204.60,221.47 205.00,221.47 205.40,221.47" fill="none" stroke="#2e6a6a" stroke-width="0.8"/>
<line x1="173.4" y1="221.72" x2="205.4" y2="221.72" stroke="#6ab88a" stroke-width="0.7"/>
<rect x="173.4" y="186.0" width="32.00" height="37.60" fill="none" stroke="#2a2a2a" stroke-width="1.55"/>
<line x1="170.8" y1="223.60" x2="173.4" y2="223.60" stroke="#111" stroke-width="0.9"/>
<line x1="170.8" y1="211.07" x2="173.4" y2="211.07" stroke="#111" stroke-width="0.9"/>
<line x1="170.8" y1="198.53" x2="173.4" y2="198.53" stroke="#111" stroke-width="0.9"/>
<line x1="170.8" y1="186.00" x2="173.4" y2="186.00" stroke="#111" stroke-width="0.9"/>
<text stroke="#2a2a2a" stroke-width="0.18" x="167.8" y="213.36666666666667" font-size="6.5" text-anchor="end" fill="#2a2a2a" font-weight="normal" font-style="normal" >1</text>
<text stroke="#2a2a2a" stroke-width="0.18" x="167.8" y="200.83333333333334" font-size="6.5" text-anchor="end" fill="#2a2a2a" font-weight="normal" font-style="normal" >2</text>
<text stroke="#2a2a2a" stroke-width="0.18" x="167.8" y="188.3" font-size="6.5" text-anchor="end" fill="#2a2a2a" font-weight="normal" font-style="normal" >3</text>
<line x1="173.40" y1="223.6" x2="173.40" y2="225.79999999999998" stroke="#111" stroke-width="0.8"/>
<line x1="189.40" y1="223.6" x2="189.40" y2="225.79999999999998" stroke="#111" stroke-width="0.8"/>
<line x1="205.40" y1="223.6" x2="205.40" y2="225.79999999999998" stroke="#111" stroke-width="0.8"/>
<text stroke="#333" stroke-width="0.18" x="173.0" y="233.1" font-size="6.8" text-anchor="middle" fill="#333" font-weight="normal" font-style="normal" textLength="13.0" lengthAdjust="spacingAndGlyphs" >−5kb</text>
<text stroke="#333" stroke-width="0.18" x="189.4" y="233.1" font-size="6.8" text-anchor="middle" fill="#333" font-weight="normal" font-style="normal" >0</text>
<text stroke="#333" stroke-width="0.18" x="205.4" y="233.1" font-size="6.8" text-anchor="middle" fill="#333" font-weight="normal" font-style="normal" >5kb</text>
<text stroke="#222" stroke-width="0.18" x="242.35" y="181.1" font-size="8.2" text-anchor="middle" fill="#222" font-weight="normal" font-style="normal" >LRF</text>
<line x1="226.7" y1="218.09" x2="258.0" y2="218.09" stroke="#95cf82" stroke-width="0.8"/>
<polyline points="226.70,211.38 230.00,210.75 233.00,209.81 236.00,206.05 239.00,201.04 242.60,193.02 245.00,196.65 248.50,202.92 250.50,204.17 253.00,208.87 255.50,210.13 257.70,214.20" fill="none" stroke="#2a5580" stroke-width="0.8" stroke-linejoin="round"/>
<rect x="226.7" y="186.0" width="31.30" height="37.60" fill="none" stroke="#2a2a2a" stroke-width="1.55"/>
<line x1="224.1" y1="223.60" x2="226.7" y2="223.60" stroke="#111" stroke-width="0.9"/>
<line x1="224.1" y1="211.07" x2="226.7" y2="211.07" stroke="#111" stroke-width="0.9"/>
<line x1="224.1" y1="198.53" x2="226.7" y2="198.53" stroke="#111" stroke-width="0.9"/>
<line x1="224.1" y1="186.00" x2="226.7" y2="186.00" stroke="#111" stroke-width="0.9"/>
<text stroke="#2a2a2a" stroke-width="0.18" x="221.1" y="213.36666666666667" font-size="6.5" text-anchor="end" fill="#2a2a2a" font-weight="normal" font-style="normal" >20</text>
<text stroke="#2a2a2a" stroke-width="0.18" x="221.1" y="200.83333333333334" font-size="6.5" text-anchor="end" fill="#2a2a2a" font-weight="normal" font-style="normal" >40</text>
<text stroke="#2a2a2a" stroke-width="0.18" x="221.1" y="188.3" font-size="6.5" text-anchor="end" fill="#2a2a2a" font-weight="normal" font-style="normal" >60</text>
<line x1="226.70" y1="223.6" x2="226.70" y2="225.79999999999998" stroke="#111" stroke-width="0.8"/>
<line x1="242.35" y1="223.6" x2="242.35" y2="225.79999999999998" stroke="#111" stroke-width="0.8"/>
<line x1="258.00" y1="223.6" x2="258.00" y2="225.79999999999998" stroke="#111" stroke-width="0.8"/>
<text stroke="#333" stroke-width="0.18" x="226.29999999999998" y="233.1" font-size="6.8" text-anchor="middle" fill="#333" font-weight="normal" font-style="normal" textLength="13.0" lengthAdjust="spacingAndGlyphs" >−5kb</text>
<text stroke="#333" stroke-width="0.18" x="242.35" y="233.1" font-size="6.8" text-anchor="middle" fill="#333" font-weight="normal" font-style="normal" >0</text>
<text stroke="#333" stroke-width="0.18" x="258.0" y="233.1" font-size="6.8" text-anchor="middle" fill="#333" font-weight="normal" font-style="normal" >5kb</text>
<text stroke="#222" stroke-width="0.18" x="289.95000000000005" y="181.1" font-size="8.2" text-anchor="middle" fill="#222" font-weight="normal" font-style="normal" >GATA1</text>
<line x1="274.1" y1="213.26" x2="305.8" y2="213.26" stroke="#95cf82" stroke-width="0.8"/>
<polyline points="274.30,207.31 276.00,208.56 278.00,207.31 280.00,205.43 281.50,202.92 282.30,199.16 283.00,203.55 285.00,201.04 286.50,199.16 288.00,197.28 289.00,199.16 290.50,197.28 292.00,197.91 294.00,199.79 296.00,201.04 298.00,203.55 300.00,205.43 302.00,206.68 303.50,206.05 306.20,209.19" fill="none" stroke="#2a5580" stroke-width="0.8" stroke-linejoin="round"/>
<rect x="274.1" y="186.0" width="31.70" height="37.60" fill="none" stroke="#2a2a2a" stroke-width="1.55"/>
<line x1="271.5" y1="223.60" x2="274.1" y2="223.60" stroke="#111" stroke-width="0.9"/>
<line x1="271.5" y1="211.07" x2="274.1" y2="211.07" stroke="#111" stroke-width="0.9"/>
<line x1="271.5" y1="198.53" x2="274.1" y2="198.53" stroke="#111" stroke-width="0.9"/>
<line x1="271.5" y1="186.00" x2="274.1" y2="186.00" stroke="#111" stroke-width="0.9"/>
<text stroke="#2a2a2a" stroke-width="0.18" x="268.5" y="213.36666666666667" font-size="6.5" text-anchor="end" fill="#2a2a2a" font-weight="normal" font-style="normal" >2</text>
<text stroke="#2a2a2a" stroke-width="0.18" x="268.5" y="200.83333333333334" font-size="6.5" text-anchor="end" fill="#2a2a2a" font-weight="normal" font-style="normal" >4</text>
<text stroke="#2a2a2a" stroke-width="0.18" x="268.5" y="188.3" font-size="6.5" text-anchor="end" fill="#2a2a2a" font-weight="normal" font-style="normal" >6</text>
<line x1="274.10" y1="223.6" x2="274.10" y2="225.79999999999998" stroke="#111" stroke-width="0.8"/>
<line x1="289.95" y1="223.6" x2="289.95" y2="225.79999999999998" stroke="#111" stroke-width="0.8"/>
<line x1="305.80" y1="223.6" x2="305.80" y2="225.79999999999998" stroke="#111" stroke-width="0.8"/>
<text stroke="#333" stroke-width="0.18" x="273.70000000000005" y="233.1" font-size="6.8" text-anchor="middle" fill="#333" font-weight="normal" font-style="normal" textLength="13.0" lengthAdjust="spacingAndGlyphs" >−5kb</text>
<text stroke="#333" stroke-width="0.18" x="289.95000000000005" y="233.1" font-size="6.8" text-anchor="middle" fill="#333" font-weight="normal" font-style="normal" >0</text>
<text stroke="#333" stroke-width="0.18" x="305.8" y="233.1" font-size="6.8" text-anchor="middle" fill="#333" font-weight="normal" font-style="normal" >5kb</text>
<text stroke="#222" stroke-width="0.18" x="341.45000000000005" y="181.1" font-size="8.2" text-anchor="middle" fill="#222" font-weight="normal" font-style="normal" >KLF1</text>
<line x1="325.6" y1="219.09" x2="357.3" y2="219.09" stroke="#95cf82" stroke-width="0.8"/>
<polyline points="325.40,214.20 327.50,213.45 330.40,213.26 332.30,213.07 334.20,209.31 336.00,208.18 337.50,204.05 339.50,200.29 341.00,202.54 342.90,198.78 344.50,202.92 345.80,207.43 348.20,207.81 350.60,213.26 352.50,211.19 354.50,214.58 357.30,216.46" fill="none" stroke="#2a5580" stroke-width="0.8" stroke-linejoin="round"/>
<rect x="325.6" y="186.0" width="31.70" height="37.60" fill="none" stroke="#2a2a2a" stroke-width="1.55"/>
<line x1="323.0" y1="223.60" x2="325.6" y2="223.60" stroke="#111" stroke-width="0.9"/>
<line x1="323.0" y1="216.08" x2="325.6" y2="216.08" stroke="#111" stroke-width="0.9"/>
<line x1="323.0" y1="208.56" x2="325.6" y2="208.56" stroke="#111" stroke-width="0.9"/>
<line x1="323.0" y1="201.04" x2="325.6" y2="201.04" stroke="#111" stroke-width="0.9"/>
<line x1="323.0" y1="193.52" x2="325.6" y2="193.52" stroke="#111" stroke-width="0.9"/>
<line x1="323.0" y1="186.00" x2="325.6" y2="186.00" stroke="#111" stroke-width="0.9"/>
<text stroke="#2a2a2a" stroke-width="0.18" x="320.0" y="218.38" font-size="6.5" text-anchor="end" fill="#2a2a2a" font-weight="normal" font-style="normal" >2</text>
<text stroke="#2a2a2a" stroke-width="0.18" x="320.0" y="210.86" font-size="6.5" text-anchor="end" fill="#2a2a2a" font-weight="normal" font-style="normal" >4</text>
<text stroke="#2a2a2a" stroke-width="0.18" x="320.0" y="203.34" font-size="6.5" text-anchor="end" fill="#2a2a2a" font-weight="normal" font-style="normal" >6</text>
<text stroke="#2a2a2a" stroke-width="0.18" x="320.0" y="195.82" font-size="6.5" text-anchor="end" fill="#2a2a2a" font-weight="normal" font-style="normal" >8</text>
<text stroke="#2a2a2a" stroke-width="0.18" x="320.0" y="188.3" font-size="6.5" text-anchor="end" fill="#2a2a2a" font-weight="normal" font-style="normal" >10</text>
<line x1="325.60" y1="223.6" x2="325.60" y2="225.79999999999998" stroke="#111" stroke-width="0.8"/>
<line x1="341.45" y1="223.6" x2="341.45" y2="225.79999999999998" stroke="#111" stroke-width="0.8"/>
<line x1="357.30" y1="223.6" x2="357.30" y2="225.79999999999998" stroke="#111" stroke-width="0.8"/>
<text stroke="#333" stroke-width="0.18" x="325.20000000000005" y="233.1" font-size="6.8" text-anchor="middle" fill="#333" font-weight="normal" font-style="normal" textLength="13.0" lengthAdjust="spacingAndGlyphs" >−5kb</text>
<text stroke="#333" stroke-width="0.18" x="341.45000000000005" y="233.1" font-size="6.8" text-anchor="middle" fill="#333" font-weight="normal" font-style="normal" >0</text>
<text stroke="#333" stroke-width="0.18" x="357.3" y="233.1" font-size="6.8" text-anchor="middle" fill="#333" font-weight="normal" font-style="normal" >5kb</text>
<text stroke="#222" stroke-width="0.18" x="389.3" y="181.1" font-size="8.2" text-anchor="middle" fill="#222" font-weight="normal" font-style="normal" >TAL1</text>
<line x1="373.3" y1="214.70" x2="405.3" y2="214.70" stroke="#95cf82" stroke-width="0.8"/>
<polyline points="373.10,209.37 375.00,209.81 377.40,208.87 379.80,208.56 381.75,202.61 384.20,201.67 386.60,197.28 388.50,200.73 390.40,197.28 391.80,197.91 394.25,202.61 396.50,205.43 398.60,208.87 401.00,206.68 402.50,209.19 405.30,211.69" fill="none" stroke="#2a5580" stroke-width="0.8" stroke-linejoin="round"/>
<rect x="373.3" y="186.0" width="32.00" height="37.60" fill="none" stroke="#2a2a2a" stroke-width="1.55"/>
<line x1="370.7" y1="223.60" x2="373.3" y2="223.60" stroke="#111" stroke-width="0.9"/>
<line x1="370.7" y1="211.07" x2="373.3" y2="211.07" stroke="#111" stroke-width="0.9"/>
<line x1="370.7" y1="198.53" x2="373.3" y2="198.53" stroke="#111" stroke-width="0.9"/>
<line x1="370.7" y1="186.00" x2="373.3" y2="186.00" stroke="#111" stroke-width="0.9"/>
<text stroke="#2a2a2a" stroke-width="0.18" x="367.7" y="213.36666666666667" font-size="6.5" text-anchor="end" fill="#2a2a2a" font-weight="normal" font-style="normal" >2</text>
<text stroke="#2a2a2a" stroke-width="0.18" x="367.7" y="200.83333333333334" font-size="6.5" text-anchor="end" fill="#2a2a2a" font-weight="normal" font-style="normal" >4</text>
<text stroke="#2a2a2a" stroke-width="0.18" x="367.7" y="188.3" font-size="6.5" text-anchor="end" fill="#2a2a2a" font-weight="normal" font-style="normal" >6</text>
<line x1="373.30" y1="223.6" x2="373.30" y2="225.79999999999998" stroke="#111" stroke-width="0.8"/>
<line x1="389.30" y1="223.6" x2="389.30" y2="225.79999999999998" stroke="#111" stroke-width="0.8"/>
<line x1="405.30" y1="223.6" x2="405.30" y2="225.79999999999998" stroke="#111" stroke-width="0.8"/>
<text stroke="#333" stroke-width="0.18" x="372.90000000000003" y="233.1" font-size="6.8" text-anchor="middle" fill="#333" font-weight="normal" font-style="normal" textLength="13.0" lengthAdjust="spacingAndGlyphs" >−5kb</text>
<text stroke="#333" stroke-width="0.18" x="389.3" y="233.1" font-size="6.8" text-anchor="middle" fill="#333" font-weight="normal" font-style="normal" >0</text>
<text stroke="#333" stroke-width="0.18" x="405.3" y="233.1" font-size="6.8" text-anchor="middle" fill="#333" font-weight="normal" font-style="normal" >5kb</text>
<text stroke="#222" stroke-width="0.18" x="442.25" y="181.1" font-size="8.2" text-anchor="middle" fill="#222" font-weight="normal" font-style="normal" >BCL11A</text>
<line x1="426.4" y1="219.09" x2="458.1" y2="219.09" stroke="#95cf82" stroke-width="0.8"/>
<polyline points="426.20,213.82 426.85,214.48 427.50,214.20 428.35,215.59 429.20,215.14 429.80,214.30 430.40,215.39 431.00,213.82 431.80,213.45 432.60,213.26 433.80,209.31 434.50,198.41 435.00,210.82 435.75,210.51 436.50,209.50 437.20,209.91 437.90,208.00 438.60,205.34 439.30,202.73 440.05,204.42 440.80,203.67 441.50,202.92 442.70,205.55 443.33,206.04 443.97,207.31 444.60,206.49 445.30,208.60 446.00,208.56 447.00,210.82 448.20,208.94 449.40,206.87 450.50,210.06 451.15,211.39 451.80,212.32 453.00,211.94 453.85,211.74 454.70,213.26 455.35,214.72 456.00,214.20 456.70,215.74 457.40,215.49 458.10,216.64" fill="none" stroke="#9cc4e4" stroke-width="2.6" stroke-linejoin="round" opacity="0.6"/>
<polyline points="426.20,213.82 426.85,214.48 427.50,214.20 428.35,215.59 429.20,215.14 429.80,214.30 430.40,215.39 431.00,213.82 431.80,213.45 432.60,213.26 433.80,209.31 434.50,198.41 435.00,210.82 435.75,210.51 436.50,209.50 437.20,209.91 437.90,208.00 438.60,205.34 439.30,202.73 440.05,204.42 440.80,203.67 441.50,202.92 442.70,205.55 443.33,206.04 443.97,207.31 444.60,206.49 445.30,208.60 446.00,208.56 447.00,210.82 448.20,208.94 449.40,206.87 450.50,210.06 451.15,211.39 451.80,212.32 453.00,211.94 453.85,211.74 454.70,213.26 455.35,214.72 456.00,214.20 456.70,215.74 457.40,215.49 458.10,216.64" fill="none" stroke="#1c3e6c" stroke-width="1.15" stroke-linejoin="round"/>
<rect x="426.4" y="186.0" width="31.70" height="37.60" fill="none" stroke="#2a2a2a" stroke-width="1.55"/>
<line x1="423.79999999999995" y1="223.60" x2="426.4" y2="223.60" stroke="#111" stroke-width="0.9"/>
<line x1="423.79999999999995" y1="214.20" x2="426.4" y2="214.20" stroke="#111" stroke-width="0.9"/>
<line x1="423.79999999999995" y1="204.80" x2="426.4" y2="204.80" stroke="#111" stroke-width="0.9"/>
<line x1="423.79999999999995" y1="195.40" x2="426.4" y2="195.40" stroke="#111" stroke-width="0.9"/>
<line x1="423.79999999999995" y1="186.00" x2="426.4" y2="186.00" stroke="#111" stroke-width="0.9"/>
<text stroke="#2a2a2a" stroke-width="0.18" x="420.79999999999995" y="207.10000000000002" font-size="6.5" text-anchor="end" fill="#2a2a2a" font-weight="normal" font-style="normal" >0.1</text>
<text stroke="#2a2a2a" stroke-width="0.18" x="420.79999999999995" y="188.3" font-size="6.5" text-anchor="end" fill="#2a2a2a" font-weight="normal" font-style="normal" >0.2</text>
<line x1="426.40" y1="223.6" x2="426.40" y2="225.79999999999998" stroke="#111" stroke-width="0.8"/>
<line x1="442.25" y1="223.6" x2="442.25" y2="225.79999999999998" stroke="#111" stroke-width="0.8"/>
<line x1="458.10" y1="223.6" x2="458.10" y2="225.79999999999998" stroke="#111" stroke-width="0.8"/>
<text stroke="#333" stroke-width="0.18" x="426.0" y="233.1" font-size="6.8" text-anchor="middle" fill="#333" font-weight="normal" font-style="normal" textLength="13.0" lengthAdjust="spacingAndGlyphs" >−5kb</text>
<text stroke="#333" stroke-width="0.18" x="442.25" y="233.1" font-size="6.8" text-anchor="middle" fill="#333" font-weight="normal" font-style="normal" >0</text>
<text stroke="#333" stroke-width="0.18" x="458.1" y="233.1" font-size="6.8" text-anchor="middle" fill="#333" font-weight="normal" font-style="normal" >5kb</text>
<text stroke="#222" stroke-width="0.18" x="490.4" y="181.1" font-size="8.2" text-anchor="middle" fill="#222" font-weight="normal" font-style="normal" >LDB1</text>
<line x1="474.5" y1="212.41" x2="506.3" y2="212.41" stroke="#95cf82" stroke-width="0.8"/>
<polyline points="474.30,206.49 476.90,207.06 480.10,205.46 483.00,201.98 486.40,198.50 488.00,197.00 490.70,195.40 492.50,197.28 494.90,199.72 497.00,202.45 500.20,204.99 502.30,204.99 504.00,206.68 506.30,208.09" fill="none" stroke="#2a5580" stroke-width="0.8" stroke-linejoin="round"/>
<rect x="474.5" y="186.0" width="31.80" height="37.60" fill="none" stroke="#2a2a2a" stroke-width="1.55"/>
<line x1="471.9" y1="223.60" x2="474.5" y2="223.60" stroke="#111" stroke-width="0.9"/>
<line x1="471.9" y1="214.20" x2="474.5" y2="214.20" stroke="#111" stroke-width="0.9"/>
<line x1="471.9" y1="204.80" x2="474.5" y2="204.80" stroke="#111" stroke-width="0.9"/>
<line x1="471.9" y1="195.40" x2="474.5" y2="195.40" stroke="#111" stroke-width="0.9"/>
<line x1="471.9" y1="186.00" x2="474.5" y2="186.00" stroke="#111" stroke-width="0.9"/>
<text stroke="#2a2a2a" stroke-width="0.18" x="468.9" y="216.5" font-size="6.5" text-anchor="end" fill="#2a2a2a" font-weight="normal" font-style="normal" >1</text>
<text stroke="#2a2a2a" stroke-width="0.18" x="468.9" y="207.10000000000002" font-size="6.5" text-anchor="end" fill="#2a2a2a" font-weight="normal" font-style="normal" >2</text>
<text stroke="#2a2a2a" stroke-width="0.18" x="468.9" y="197.70000000000002" font-size="6.5" text-anchor="end" fill="#2a2a2a" font-weight="normal" font-style="normal" >3</text>
<text stroke="#2a2a2a" stroke-width="0.18" x="468.9" y="188.3" font-size="6.5" text-anchor="end" fill="#2a2a2a" font-weight="normal" font-style="normal" >4</text>
<line x1="474.50" y1="223.6" x2="474.50" y2="225.79999999999998" stroke="#111" stroke-width="0.8"/>
<line x1="490.40" y1="223.6" x2="490.40" y2="225.79999999999998" stroke="#111" stroke-width="0.8"/>
<line x1="506.30" y1="223.6" x2="506.30" y2="225.79999999999998" stroke="#111" stroke-width="0.8"/>
<text stroke="#333" stroke-width="0.18" x="474.1" y="233.1" font-size="6.8" text-anchor="middle" fill="#333" font-weight="normal" font-style="normal" textLength="13.0" lengthAdjust="spacingAndGlyphs" >−5kb</text>
<text stroke="#333" stroke-width="0.18" x="490.4" y="233.1" font-size="6.8" text-anchor="middle" fill="#333" font-weight="normal" font-style="normal" >0</text>
<text stroke="#333" stroke-width="0.18" x="506.3" y="233.1" font-size="6.8" text-anchor="middle" fill="#333" font-weight="normal" font-style="normal" >5kb</text>
<defs><linearGradient id="ht0" x1="0" y1="0" x2="1" y2="0"><stop offset="0" stop-color="#fdf4f4"/><stop offset="0.5" stop-color="#fdf4f4"/><stop offset="1" stop-color="#fdf4f4"/></linearGradient><linearGradient id="hv0" x1="0" y1="0" x2="0" y2="1"><stop offset="0" stop-color="#fcf0f0"/><stop offset="1" stop-color="#fdf4f4"/></linearGradient><linearGradient id="ht1" x1="0" y1="0" x2="1" y2="0"><stop offset="0" stop-color="#f07a7a"/><stop offset="0.5" stop-color="#ea5656"/><stop offset="1" stop-color="#f07a7a"/></linearGradient><linearGradient id="hv1" x1="0" y1="0" x2="0" y2="1"><stop offset="0" stop-color="#e02424"/><stop offset="0.05" stop-color="#e64040"/><stop offset="0.13" stop-color="#ec6c6c"/><stop offset="0.3" stop-color="#f19494"/><stop offset="0.6" stop-color="#f4b0b0"/><stop offset="1" stop-color="#f7c8c8"/></linearGradient><linearGradient id="ht2" x1="0" y1="0" x2="1" y2="0"><stop offset="0" stop-color="#f4b6b6"/><stop offset="0.5" stop-color="#ee9494"/><stop offset="1" stop-color="#f4b6b6"/></linearGradient><linearGradient id="hv2" x1="0" y1="0" x2="0" y2="1"><stop offset="0" stop-color="#f2a6a6"/><stop offset="0.015" stop-color="#f7cccc"/><stop offset="0.1" stop-color="#f8d2d2"/><stop offset="0.5" stop-color="#fadcdc"/><stop offset="1" stop-color="#fdecec"/></linearGradient><linearGradient id="ht3" x1="0" y1="0" x2="1" y2="0"><stop offset="0" stop-color="#f2a8a8"/><stop offset="0.5" stop-color="#e86262"/><stop offset="1" stop-color="#f2a8a8"/></linearGradient><linearGradient id="hv3" x1="0" y1="0" x2="0" y2="1"><stop offset="0" stop-color="#f4b4b4"/><stop offset="0.015" stop-color="#f8d0d0"/><stop offset="0.1" stop-color="#f9d6d6"/><stop offset="0.5" stop-color="#fce4e4"/><stop offset="1" stop-color="#fef2f2"/></linearGradient><linearGradient id="ht4" x1="0" y1="0" x2="1" y2="0"><stop offset="0" stop-color="#f4b4b4"/><stop offset="0.5" stop-color="#ec8080"/><stop offset="1" stop-color="#f4b4b4"/></linearGradient><linearGradient id="hv4" x1="0" y1="0" x2="0" y2="1"><stop offset="0" stop-color="#f2a6a6"/><stop offset="0.015" stop-color="#f7caca"/><stop offset="0.1" stop-color="#f8d0d0"/><stop offset="0.5" stop-color="#fadcdc"/><stop offset="1" stop-color="#fdecec"/></linearGradient><linearGradient id="ht5" x1="0" y1="0" x2="1" y2="0"><stop offset="0" stop-color="#fdf6f6"/><stop offset="0.5" stop-color="#fcecec"/><stop offset="1" stop-color="#fdf6f6"/></linearGradient><linearGradient id="hv5" x1="0" y1="0" x2="0" y2="1"><stop offset="0" stop-color="#fcecec"/><stop offset="0.1" stop-color="#fdf6f6"/><stop offset="1" stop-color="#fefafa"/></linearGradient><linearGradient id="ht6" x1="0" y1="0" x2="1" y2="0"><stop offset="0" stop-color="#f6c4c4"/><stop offset="0.5" stop-color="#f2a4a4"/><stop offset="1" stop-color="#f6c4c4"/></linearGradient><linearGradient id="hv6" x1="0" y1="0" x2="0" y2="1"><stop offset="0" stop-color="#f2a6a6"/><stop offset="0.015" stop-color="#f6c4c4"/><stop offset="0.1" stop-color="#f7caca"/><stop offset="0.5" stop-color="#f9d6d6"/><stop offset="1" stop-color="#fce6e6"/></linearGradient><linearGradient id="wv" x1="0" y1="0" x2="0" y2="1"><stop offset="0" stop-color="#fff" stop-opacity="0"/><stop offset="1" stop-color="#fff" stop-opacity="0.45"/></linearGradient><filter id="spk" x="0" y="0" width="1" height="1" filterUnits="objectBoundingBox"><feTurbulence type="fractalNoise" baseFrequency="0.55 0.8" numOctaves="2" seed="4"/><feColorMatrix type="matrix" values="0 0 0 0 0.86 0 0 0 0 0.25 0 0 0 0 0.25 7 0 0 0 -4.1"/></filter><filter id="mot" x="0" y="0" width="1" height="1" filterUnits="objectBoundingBox"><feTurbulence type="fractalNoise" baseFrequency="0.25 0.6" numOctaves="2" seed="11"/><feColorMatrix type="matrix" values="0 0 0 0 1 0 0 0 0 1 0 0 0 0 1 2.2 0 0 0 -0.95"/></filter><linearGradient id="cbar" x1="0" y1="0" x2="1" y2="0"><stop offset="0" stop-color="#ffffff"/><stop offset="0.45" stop-color="#eeb0b0"/><stop offset="0.8" stop-color="#d43838"/><stop offset="1" stop-color="#b40c0c"/></linearGradient></defs>
<rect x="173.10" y="237.0" width="33.20" height="20.20" fill="url(#ht0)"/>
<rect x="173.10" y="257.2" width="33.20" height="197.20" fill="url(#hv0)"/>
<rect x="173.10" y="237.0" width="33.20" height="217.40" fill="#fff" filter="url(#spk)" opacity="0.3"/>
<rect x="188.80" y="237.0" width="1.6" height="217.40" fill="#d03c3c" opacity="0.9"/>
<rect x="173.10" y="237.0" width="33.20" height="217.40" fill="none" stroke="#9a9a9a" stroke-width="0.8"/>
<line x1="173.10" y1="257.2" x2="206.30" y2="257.2" stroke="#a0a0a0" stroke-width="1.3"/>
<rect x="173.10" y="458.3" width="33.20" height="3.4" fill="url(#cbar)" stroke="#999" stroke-width="0.5"/>
<rect x="225.10" y="237.0" width="33.80" height="20.20" fill="url(#ht1)"/>
<rect x="225.10" y="257.2" width="33.80" height="197.20" fill="url(#hv1)"/>
<clipPath id="cpl"><rect x="225.10" y="237.0" width="33.80" height="20.20"/></clipPath>
<rect x="225.10" y="237.0" width="33.80" height="20.20" fill="url(#wv)" opacity="0.3"/>
<g clip-path="url(#cpl)"><path d="M229.10,235.0 L254.90,235.0 L247.00,257.2 L237.00,257.2 Z" fill="#e62626" opacity="0.8" filter="url(#bl2)"/></g>
<rect x="225.10" y="237.0" width="33.80" height="1.2" fill="#cc2020"/>
<rect x="225.10" y="237.0" width="33.80" height="217.40" fill="#fff" filter="url(#mot)" opacity="0.35"/>
<rect x="225.10" y="237.0" width="33.80" height="217.40" fill="none" stroke="#9a9a9a" stroke-width="0.8"/>
<line x1="225.10" y1="257.2" x2="258.90" y2="257.2" stroke="#a0a0a0" stroke-width="1.3"/>
<rect x="225.10" y="458.3" width="33.80" height="3.4" fill="url(#cbar)" stroke="#999" stroke-width="0.5"/>
<rect x="272.90" y="237.0" width="33.50" height="20.20" fill="url(#ht2)"/>
<rect x="272.90" y="257.2" width="33.50" height="197.20" fill="url(#hv2)"/>
<rect x="272.90" y="237.0" width="33.50" height="20.20" fill="url(#wv)"/>
<rect x="272.90" y="237.0" width="33.50" height="1.0" fill="#e48a8a"/>
<rect x="272.90" y="237.0" width="33.50" height="217.40" fill="#fff" filter="url(#mot)" opacity="0.35"/>
<rect x="272.90" y="237.0" width="33.50" height="217.40" fill="none" stroke="#9a9a9a" stroke-width="0.8"/>
<line x1="272.90" y1="257.2" x2="306.40" y2="257.2" stroke="#a0a0a0" stroke-width="1.3"/>
<rect x="272.90" y="458.3" width="33.50" height="3.4" fill="url(#cbar)" stroke="#999" stroke-width="0.5"/>
<rect x="324.90" y="237.0" width="33.30" height="20.20" fill="url(#ht3)"/>
<rect x="324.90" y="257.2" width="33.30" height="197.20" fill="url(#hv3)"/>
<rect x="324.90" y="237.0" width="33.30" height="20.20" fill="url(#wv)"/>
<rect x="324.90" y="237.0" width="33.30" height="1.0" fill="#e48a8a"/>
<rect x="324.90" y="237.0" width="33.30" height="217.40" fill="#fff" filter="url(#mot)" opacity="0.35"/>
<rect x="324.90" y="237.0" width="33.30" height="217.40" fill="none" stroke="#9a9a9a" stroke-width="0.8"/>
<line x1="324.90" y1="257.2" x2="358.20" y2="257.2" stroke="#a0a0a0" stroke-width="1.3"/>
<rect x="324.90" y="458.3" width="33.30" height="3.4" fill="url(#cbar)" stroke="#999" stroke-width="0.5"/>
<rect x="373.20" y="237.0" width="33.20" height="20.20" fill="url(#ht4)"/>
<rect x="373.20" y="257.2" width="33.20" height="197.20" fill="url(#hv4)"/>
<rect x="373.20" y="237.0" width="33.20" height="20.20" fill="url(#wv)"/>
<rect x="373.20" y="237.0" width="33.20" height="1.0" fill="#e48a8a"/>
<rect x="373.20" y="237.0" width="33.20" height="217.40" fill="#fff" filter="url(#mot)" opacity="0.35"/>
<rect x="373.20" y="237.0" width="33.20" height="217.40" fill="none" stroke="#9a9a9a" stroke-width="0.8"/>
<line x1="373.20" y1="257.2" x2="406.40" y2="257.2" stroke="#a0a0a0" stroke-width="1.3"/>
<rect x="373.20" y="458.3" width="33.20" height="3.4" fill="url(#cbar)" stroke="#999" stroke-width="0.5"/>
<rect x="426.50" y="237.0" width="33.10" height="20.20" fill="url(#ht5)"/>
<rect x="426.50" y="257.2" width="33.10" height="197.20" fill="url(#hv5)"/>
<rect x="426.50" y="237.0" width="33.10" height="20.20" fill="#fff" filter="url(#spk)" opacity="0.3"/>
<rect x="426.50" y="237.0" width="33.10" height="217.40" fill="none" stroke="#9a9a9a" stroke-width="0.8"/>
<line x1="426.50" y1="257.2" x2="459.60" y2="257.2" stroke="#a0a0a0" stroke-width="1.3"/>
<rect x="426.50" y="458.3" width="33.10" height="3.4" fill="url(#cbar)" stroke="#999" stroke-width="0.5"/>
<rect x="474.50" y="237.0" width="33.00" height="20.20" fill="url(#ht6)"/>
<rect x="474.50" y="257.2" width="33.00" height="197.20" fill="url(#hv6)"/>
<rect x="474.50" y="237.0" width="33.00" height="20.20" fill="url(#wv)"/>
<rect x="474.50" y="237.0" width="33.00" height="1.0" fill="#e48a8a"/>
<rect x="474.50" y="237.0" width="33.00" height="217.40" fill="#fff" filter="url(#mot)" opacity="0.35"/>
<rect x="474.50" y="237.0" width="33.00" height="217.40" fill="none" stroke="#9a9a9a" stroke-width="0.8"/>
<line x1="474.50" y1="257.2" x2="507.50" y2="257.2" stroke="#a0a0a0" stroke-width="1.3"/>
<rect x="474.50" y="458.3" width="33.00" height="3.4" fill="url(#cbar)" stroke="#999" stroke-width="0.5"/>
<text stroke="#333" stroke-width="0.18" x="173.72" y="470.2" font-size="6.6" text-anchor="middle" fill="#333" font-weight="normal" font-style="normal" >0</text>
<text stroke="#333" stroke-width="0.18" x="184.44" y="470.2" font-size="6.6" text-anchor="middle" fill="#333" font-weight="normal" font-style="normal" >1</text>
<text stroke="#333" stroke-width="0.18" x="194.84" y="470.2" font-size="6.6" text-anchor="middle" fill="#333" font-weight="normal" font-style="normal" >2</text>
<text stroke="#333" stroke-width="0.18" x="205.72" y="470.2" font-size="6.6" text-anchor="middle" fill="#333" font-weight="normal" font-style="normal" >3</text>
<text stroke="#333" stroke-width="0.18" x="227.01299999999998" y="470.2" font-size="6.6" text-anchor="middle" fill="#333" font-weight="normal" font-style="normal" >0</text>
<text stroke="#333" stroke-width="0.18" x="238.7505" y="470.2" font-size="6.6" text-anchor="middle" fill="#333" font-weight="normal" font-style="normal" >10</text>
<text stroke="#333" stroke-width="0.18" x="252.2095" y="470.2" font-size="6.6" text-anchor="middle" fill="#333" font-weight="normal" font-style="normal" >20</text>
<text stroke="#333" stroke-width="0.18" x="274.41700000000003" y="470.2" font-size="6.6" text-anchor="middle" fill="#333" font-weight="normal" font-style="normal" >0</text>
<text stroke="#333" stroke-width="0.18" x="286.78000000000003" y="470.2" font-size="6.6" text-anchor="middle" fill="#333" font-weight="normal" font-style="normal" >4</text>
<text stroke="#333" stroke-width="0.18" x="299.46000000000004" y="470.2" font-size="6.6" text-anchor="middle" fill="#333" font-weight="normal" font-style="normal" >8</text>
<text stroke="#333" stroke-width="0.18" x="325.91700000000003" y="470.2" font-size="6.6" text-anchor="middle" fill="#333" font-weight="normal" font-style="normal" >0</text>
<text stroke="#333" stroke-width="0.18" x="338.43850000000003" y="470.2" font-size="6.6" text-anchor="middle" fill="#333" font-weight="normal" font-style="normal" >4</text>
<text stroke="#333" stroke-width="0.18" x="350.96000000000004" y="470.2" font-size="6.6" text-anchor="middle" fill="#333" font-weight="normal" font-style="normal" >8</text>
<text stroke="#333" stroke-width="0.18" x="373.62" y="470.2" font-size="6.6" text-anchor="middle" fill="#333" font-weight="normal" font-style="normal" >0</text>
<text stroke="#333" stroke-width="0.18" x="386.42" y="470.2" font-size="6.6" text-anchor="middle" fill="#333" font-weight="normal" font-style="normal" >4</text>
<text stroke="#333" stroke-width="0.18" x="399.22" y="470.2" font-size="6.6" text-anchor="middle" fill="#333" font-weight="normal" font-style="normal" >8</text>
<text stroke="#333" stroke-width="0.18" x="427.98499999999996" y="470.2" font-size="6.6" text-anchor="middle" fill="#333" font-weight="normal" font-style="normal" >0.0</text>
<text stroke="#333" stroke-width="0.18" x="439.397" y="470.2" font-size="6.6" text-anchor="middle" fill="#333" font-weight="normal" font-style="normal" >0.4</text>
<text stroke="#333" stroke-width="0.18" x="453.97900000000004" y="470.2" font-size="6.6" text-anchor="middle" fill="#333" font-weight="normal" font-style="normal" >0.8</text>
<text stroke="#333" stroke-width="0.18" x="475.136" y="470.2" font-size="6.6" text-anchor="middle" fill="#333" font-weight="normal" font-style="normal" >0</text>
<text stroke="#333" stroke-width="0.18" x="487.538" y="470.2" font-size="6.6" text-anchor="middle" fill="#333" font-weight="normal" font-style="normal" >4</text>
<text stroke="#333" stroke-width="0.18" x="499.622" y="470.2" font-size="6.6" text-anchor="middle" fill="#333" font-weight="normal" font-style="normal" >8</text>
<text stroke="#333" stroke-width="0.18" x="0" y="0" font-size="5.8" text-anchor="middle" fill="#333" transform="translate(160.2,246) rotate(-90)">620</text>
<text stroke="#333" stroke-width="0.18" x="0" y="0" font-size="5.8" text-anchor="middle" fill="#333" transform="translate(166.2,246.4) rotate(-90)">+<tspan font-style="italic">LRF</tspan></text>
<text stroke="#333" stroke-width="0.18" x="0" y="0" font-size="6.4" text-anchor="middle" fill="#333" transform="translate(168.2,362.7) rotate(-90)">6173 <tspan font-style="italic">GATA2AS</tspan> only</text>
</svg></body></html>
